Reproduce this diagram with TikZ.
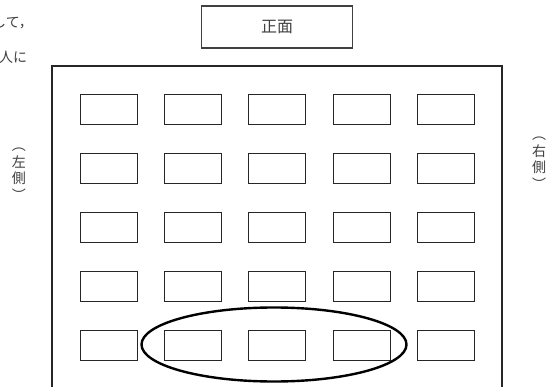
\documentclass[tikz,border=0pt]{standalone}
\usepackage{fontspec}
\newfontfamily\jp{Noto Sans CJK JP}
\usetikzlibrary{shapes.geometric}
\begin{document}
\begin{tikzpicture}[x=1pt,y=-1pt,
  desk/.style={draw=black!85,line width=1pt,minimum width=57pt,minimum height=30pt,inner sep=0pt,anchor=north west},
  lbl/.style={text=black!75,font=\jp,inner sep=0pt},
  front/.style={draw=black!75,line width=1.2pt,minimum width=151pt,minimum height=42pt,inner sep=0pt,text=black!75,font=\jp\fontsize{16}{16}\selectfont},
  side/.style={lbl,font=\jp\fontsize{14}{16.5}\selectfont,align=center}]
\useasboundingbox (0,0) rectangle (551,387);
\fill[white] (0,0) rectangle (551,387);
\node[front] (front) at (277,27) {正面};
\draw[black!85,line width=1.3pt] (52,395) -- (52,66) -- (502,66) -- (502,395);
\foreach \r/\y in {1/94,2/153,3/212,4/271,5/330}{
  \foreach \c/\x in {1/80,2/164,3/248,4/333,5/417}{
    \node[desk] (d\r\c) at (\x,\y) {};
  }
}
\node[draw=black,line width=2.4pt,ellipse,minimum width=265pt,minimum height=74pt,inner sep=0pt] (sel) at (274,344.5) {};
\node[side] (left) at (19,174) {︵\\左\\側\\︶};
\node[side] (right) at (539,163) {︵\\右\\側\\︶};
\node[lbl,font=\jp\fontsize{14}{14}\selectfont,anchor=base west] (t1) at (-8,28) {して，};
\node[lbl,font=\jp\fontsize{14}{14}\selectfont,anchor=base west] (t2) at (-1,63) {人に};
\end{tikzpicture}
\end{document}
